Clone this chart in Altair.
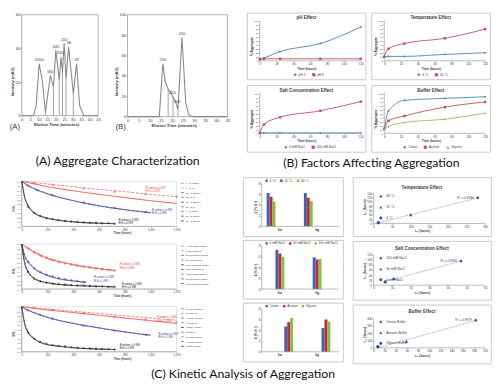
import altair as alt
import pandas as pd

FONT = "Liberation Sans"
TXT = "#3A3A3A"
AX = "#8C8C8C"
BOX = "#BDBDBD"

# ============ (A) size-exclusion chromatograms ============
chromA_time = [0, 7, 8.5, 10.3, 12.2, 14.0, 15.0, 16.9, 18.7, 20.1, 22.1, 23.1, 24.0, 25.0, 26.1, 27.6, 30.4, 32.3, 34.1, 36.6, 45]
chromA_int = [0, 0, 6, 31, 20, 2, 10, 24, 17, 39, 21, 35, 26, 43, 22, 41, 13, 31, 6, 0, 0]
chromA_cut_t = [14.0, 18.7, 22.1, 24.0, 26.1, 30.4]
chromA_cut_v = [2, 17, 21, 26, 22, 13]
chromA_lab_t = [10.3, 16.9, 20.1, 22.6, 25.0, 27.9, 32.3]
chromA_lab_v = [31, 24, 39, 35, 43, 41, 31]
chromA_lab = ["2000", "660", "440", "300", "150", "66", "29"]

chromB_time = [0, 14.3, 15.9, 17.0, 18.3, 19.4, 20.5, 21.6, 22.7, 24.5, 26.2, 27.5, 29, 45]
chromB_int = [0, 0, 52, 34, 27, 24, 19, 15, 7, 78, 14, 2, 0, 0]
chromB_cut_t = [18.3, 20.5, 22.7]
chromB_cut_v = [27, 19, 7]
chromB_lab_t = [15.9, 20.2, 22.3, 24.5]
chromB_lab_v = [52, 20, 11, 78]
chromB_lab = ["250", "450", "200", "150"]

elution_ticks = [0, 5, 10, 15, 20, 25, 30, 35, 40, 45]

# ============ (B) factors affecting aggregation ============
hours = [0, 5, 24, 72, 120]
hour_ticks = [0, 20, 40, 60, 80, 100, 120]
pct_ticks = [0, 10, 20, 30, 40, 50, 60, 70, 80, 90, 100]
ph_names = ["pH 3", "pH 6"]
ph_vals = [[4, 7, 23, 43, 84], [4, 5, 5, 5, 5]]
temp_names = ["4 °C", "30 °C"]
temp_vals = [[10, 11, 11, 16, 20], [10, 30, 43, 56, 79]]
salt_names = ["0 mM NaCl", "100 mM NaCl"]
salt_vals = [[1, 1, 1, 1, 1], [1, 22, 40, 56, 79]]
buf_names = ["Citrate", "Acetate", "Glycine"]
buf_vals = [[11, 55, 82, 87, 91], [11, 31, 43, 65, 78], [11, 17, 27, 35, 50]]
B_COLORS = ["#4F81BD", "#C0504D", "#9BBB59"]
B_SHAPES = ["diamond", "square", "triangle-up"]

# ============ (C) kinetic analysis ============
decay_hour_ticks = [0, 200, 400, 600, 800, 1000, 1200]
decay_ratio_ticks = [0, 0.1, 0.2, 0.3, 0.4, 0.5, 0.6, 0.7, 0.8, 0.9, 1]
red_h_long = [0, 100, 200, 400, 600, 800, 1000, 1200]
blue_h_long = [0, 50, 100, 200, 400, 600, 800, 1000]
black_h = [0, 25, 50, 100, 150, 200, 300, 400, 500, 600, 720]
mark_h_black = [48, 96, 144, 192, 240, 288, 336, 384, 432, 480, 528, 576, 624, 672, 720]

d1_names = ["4 °C subset", "4 °C fit", "15 °C subset", "15 °C fit", "30 °C subset", "30 °C fit",
            "4 °C actual", "15 °C actual", "30 °C actual"]
d1_line_h = [red_h_long, red_h_long, blue_h_long, blue_h_long, black_h, black_h]
d1_line_v = [[1.0, 0.94, 0.88, 0.79, 0.71, 0.64, 0.57, 0.51],
             [1.0, 0.97, 0.94, 0.88, 0.82, 0.77, 0.71, 0.66],
             [1.0, 0.90, 0.83, 0.72, 0.57, 0.46, 0.37, 0.30],
             [1.0, 0.91, 0.84, 0.73, 0.57, 0.45, 0.37, 0.31],
             [1.0, 0.62, 0.45, 0.29, 0.22, 0.18, 0.13, 0.10, 0.08, 0.07, 0.06],
             [1.0, 0.64, 0.47, 0.30, 0.23, 0.18, 0.13, 0.10, 0.08, 0.07, 0.06]]
d1_mark_h = [[96, 240, 480, 720, 960, 1200], [48, 120, 240, 480, 720, 960], mark_h_black]
d1_mark_v = [[0.96, 0.92, 0.84, 0.77, 0.71, 0.66],
             [0.90, 0.80, 0.69, 0.53, 0.41, 0.32],
             [0.44, 0.30, 0.23, 0.18, 0.16, 0.14, 0.12, 0.11, 0.10, 0.09, 0.08, 0.08, 0.07, 0.07, 0.06]]
d1_r2_x = [960, 960, 1010, 1010, 750, 750]
d1_r2_y = [0.86, 0.78, 0.37, 0.29, 0.14, 0.07]
d1_r2_t = ["R²subset = 0.997", "R²fit = 0.995", "R²subset = 0.998", "R²fit = 0.998", "R²subset = 0.999", "R²fit = 0.999"]

d2_names = ["0 mM NaCl subset", "0 mM NaCl fit", "50 mM NaCl subset", "50 mM NaCl fit",
            "100 mM NaCl subset", "100 mM NaCl fit", "0 mM NaCl actual", "50 mM NaCl actual", "100 mM NaCl actual"]
d2_red_h = [0, 100, 200, 300, 400, 500, 600, 720]
d2_blue_h = [0, 25, 50, 100, 200, 300, 400, 500]
d2_line_h = [d2_red_h, d2_red_h, d2_blue_h, d2_blue_h, black_h, black_h]
d2_line_v = [[1.0, 0.81, 0.68, 0.60, 0.54, 0.49, 0.45, 0.41],
             [1.0, 0.83, 0.70, 0.61, 0.55, 0.50, 0.46, 0.42],
             [1.0, 0.72, 0.60, 0.45, 0.30, 0.22, 0.18, 0.15],
             [1.0, 0.74, 0.62, 0.46, 0.31, 0.23, 0.18, 0.15],
             [1.0, 0.55, 0.38, 0.23, 0.17, 0.14, 0.10, 0.08, 0.07, 0.06, 0.05],
             [1.0, 0.57, 0.39, 0.24, 0.17, 0.14, 0.10, 0.08, 0.07, 0.06, 0.05]]
d2_mark_h = [mark_h_black, [48, 96, 144, 192, 240, 288, 336, 384, 432, 480], mark_h_black]
d2_mark_v = [[0.90, 0.81, 0.74, 0.69, 0.64, 0.60, 0.57, 0.55, 0.52, 0.50, 0.48, 0.46, 0.44, 0.43, 0.41],
             [0.60, 0.46, 0.38, 0.32, 0.28, 0.25, 0.22, 0.20, 0.18, 0.16],
             [0.38, 0.23, 0.17, 0.14, 0.12, 0.11, 0.10, 0.09, 0.08, 0.08, 0.07, 0.06, 0.06, 0.05, 0.05]]
d2_r2_x = [760, 760, 560, 560, 775, 775]
d2_r2_y = [0.55, 0.47, 0.27, 0.19, 0.12, 0.05]
d2_r2_t = ["R²subset = 0.996", "R²fit = 0.993", "R²subset = 0.998", "R²fit = 0.997", "R²subset = 0.999", "R²fit = 0.998"]

d3_names = ["Glycine subset", "Glycine fit", "Acetate subset", "Acetate fit", "Citrate subset", "Citrate fit",
            "Glycine actual", "Acetate actual", "Citrate actual"]
d3_red_h = [0, 200, 400, 600, 800, 1000, 1200]
d3_line_h = [d3_red_h, d3_red_h, blue_h_long, blue_h_long, black_h, black_h]
d3_line_v = [[1.0, 0.93, 0.87, 0.81, 0.75, 0.69, 0.63],
             [1.0, 0.95, 0.90, 0.85, 0.80, 0.75, 0.70],
             [1.0, 0.92, 0.86, 0.76, 0.63, 0.53, 0.44, 0.37],
             [1.0, 0.93, 0.87, 0.77, 0.63, 0.53, 0.44, 0.36],
             [1.0, 0.60, 0.43, 0.28, 0.20, 0.16, 0.12, 0.09, 0.07, 0.06, 0.05],
             [1.0, 0.62, 0.45, 0.29, 0.21, 0.16, 0.12, 0.09, 0.07, 0.06, 0.05]]
d3_mark_h = [[96, 240, 480, 720, 960, 1200], [48, 144, 240, 480, 720, 960], mark_h_black]
d3_mark_v = [[0.97, 0.93, 0.86, 0.78, 0.72, 0.65],
             [0.92, 0.82, 0.74, 0.58, 0.47, 0.38],
             [0.43, 0.29, 0.22, 0.18, 0.15, 0.13, 0.12, 0.10, 0.09, 0.08, 0.08, 0.07, 0.06, 0.06, 0.05]]
d3_r2_x = [1050, 1050, 1060, 1060, 760, 760]
d3_r2_y = [0.77, 0.69, 0.39, 0.32, 0.16, 0.09]
d3_r2_t = ["R²subset = 0.995", "R²fit = 0.994", "R²subset = 0.997", "R²fit = 0.996", "R²subset = 0.999", "R²fit = 0.999"]

DEC_COLORS = ["#EE3B3B", "#F07878", "#3B3B9E", "#6060BC", "#111111", "#555555", "#EE3B3B", "#3B3B9E", "#111111"]
DEC_DASH = [[1, 0], [3, 1.5], [1, 0], [3, 1.5], [1, 0], [3, 1.5], [1, 0], [1, 0], [1, 0]]
R2_COLORS = ["#EE3B3B", "#EE3B3B", "#3B3B9E", "#3B3B9E", "#111111", "#111111"]

bar_groups = ["ka", "kg"]
bar_temp_names = ["4 °C", "15 °C", "30 °C"]
bar_temp_vals = [[6.2, 6.2], [5.5, 5.3], [4.6, 4.7]]
bar_salt_names = ["0 mM NaCl", "50 mM NaCl", "100 mM NaCl"]
bar_salt_vals = [[7.3, 5.9], [6.6, 5.5], [6.0, 5.6]]
bar_buf_names = ["Citrate", "Acetate", "Glycine"]
bar_buf_vals = [[4.7, 4.4], [5.5, 6.0], [6.3, 5.6]]
bar_ticks = [0, 2, 4, 6, 8]
BAR_COLORS = ["#3D63BD", "#C1293C", "#86BD42"]

sc_temp_names = ["30 °C", "15 °C", "4 °C"]
sc_temp_x = [280, 100, 13]
sc_temp_y = [118, 40, 3]
sc_salt_names = ["100 mM NaCl", "50 mM NaCl", "0 mM NaCl"]
sc_salt_x = [47, 11, 6.3]
sc_salt_y = [95, 26, 13]
sc_buf_names = ["Citrate Buffer", "Acetate Buffer", "Glycine Buffer"]
sc_buf_x = [183, 59, 8]
sc_buf_y = [375, 90, 15]
sc_r2 = ["R² = 0.9936", "R² = 0.9926", "R² = 0.9979"]
SC_SHAPES = ["diamond", "triangle-up", "circle"]

IND = dict(color="independent", shape="independent", strokeDash="independent")


# ---------------- helpers ----------------
def lin(lo, hi, pad_lo, pad_hi, length):
    k = (length - pad_lo - pad_hi) / (hi - lo)
    return alt.Scale(domain=[lo - pad_lo / k, hi + pad_hi / k], nice=False, zero=False)


def axis(values, inset, title, lfs, tfs, tick=1.2):
    return alt.Axis(values=values, offset=-inset, domain=False, grid=False, ticks=True,
                    tickSize=tick, tickWidth=0.5, tickColor=AX,
                    labelFontSize=lfs, labelPadding=0.6, labelColor=TXT, labelOverlap=False,
                    labelFlush=False, title=title, titleFontSize=tfs, titlePadding=0.8,
                    titleColor=TXT, titleFontWeight="bold", minExtent=0, maxExtent=100)


def frame_rules(x0, x1, y0, y1, X, Y):
    df = pd.DataFrame({"x": [x0, x0], "x2": [x1, x0], "y": [y0, y0], "y2": [y0, y1]})
    return alt.Chart(df).mark_rule(color=AX, strokeWidth=0.6).encode(x=X("x"), x2="x2", y=Y("y"), y2="y2")


def chrom(time, inten, cut_t, cut_v, lab_t, lab_v, lab, ymax, yticks, tag, tag_x, tag_y, W, H, L, R, T, B):
    xs = lin(0, 45, L, R, W)
    ys = lin(0, ymax, B, T, H)
    xa = axis(elution_ticks, B, "Elution Time (minutes)", 4.2, 4.3)
    ya = axis(yticks, L, "Intensity (mAU)", 4.2, 4.0)
    X = lambda f: alt.X(f, type="quantitative", scale=xs, axis=xa)
    Y = lambda f: alt.Y(f, type="quantitative", scale=ys, axis=ya)
    frame = alt.Chart(pd.DataFrame({"x": [0], "x2": [45], "y": [0], "y2": [ymax]})).mark_rect(
        fillOpacity=0, stroke=AX, strokeWidth=0.7).encode(x=X("x"), x2="x2", y=Y("y"), y2="y2")
    trace = alt.Chart(pd.DataFrame({"t": time, "v": inten})).mark_line(
        color="#8A8A8A", strokeWidth=1.1).encode(x=X("t"), y=Y("v"))
    cuts = alt.Chart(pd.DataFrame({"t": cut_t, "base": [0] * len(cut_t), "v": cut_v})).mark_rule(
        color="#8A8A8A", strokeWidth=0.8).encode(x=X("t"), y=Y("base"), y2="v")
    labels = alt.Chart(pd.DataFrame({"t": lab_t, "v": lab_v, "lab": lab})).mark_text(
        fontSize=4.0, dy=-1.5, baseline="bottom", color=TXT).encode(x=X("t"), y=Y("v"), text="lab:N")
    tagc = alt.Chart(pd.DataFrame({"t": [tag_x], "v": [tag_y], "lab": [tag]})).mark_text(
        fontSize=8, color=TXT).encode(x=X("t"), y=Y("v"), text="lab:N")
    return alt.layer(frame, trace, cuts, labels, tagc).properties(width=W, height=H)


def line_panel(title, names, vals, W=121, H=68, L=13, R=5, T=8, B=19):
    rows = [dict(h=h, v=v, s=n) for n, vs in zip(names, vals) for h, v in zip(hours, vs)]
    df = pd.DataFrame(rows)
    xs = lin(0, 120, L, R, W)
    ys = lin(0, 100, B, T, H)
    xa = axis(hour_ticks, B, "Time (hours)", 3, 3.2)
    ya = axis(pct_ticks, L, "% Aggregate", 2.6, 3.2)
    X = lambda f: alt.X(f, type="quantitative", scale=xs, axis=xa)
    Y = lambda f: alt.Y(f, type="quantitative", scale=ys, axis=ya)
    n = len(names)
    est = sum(4.5 + 1.6 * len(s) for s in names) + 5 * (n - 1)
    lg = alt.Legend(orient="none", legendX=(W - est) / 2, legendY=H - 7, direction="horizontal",
                    title=None, labelFontSize=3.2, symbolSize=7, symbolStrokeWidth=0.6,
                    columnPadding=5, labelOffset=1.5, padding=0, labelColor=TXT)
    cs = alt.Scale(domain=names, range=B_COLORS[:n])
    ss = alt.Scale(domain=names, range=B_SHAPES[:n])
    rules = frame_rules(0, 120, 0, 100, X, Y)
    line = alt.Chart(df).mark_line(interpolate="monotone", strokeWidth=0.9).encode(
        x=X("h"), y=Y("v"), color=alt.Color("s:N", scale=cs, legend=lg, sort=names))
    pts = alt.Chart(df).mark_point(filled=True, size=6, opacity=1).encode(
        x=X("h"), y=Y("v"), color=alt.Color("s:N", scale=cs, legend=lg, sort=names),
        shape=alt.Shape("s:N", scale=ss, legend=lg, sort=names))
    return alt.layer(rules, line, pts).properties(
        width=W, height=H,
        title=alt.Title(title, fontSize=4.6, fontWeight="bold", offset=-7, color=TXT, anchor="middle"),
        view=alt.ViewBackground(stroke=BOX, strokeWidth=0.8))


def decay(names, line_h, line_v, mark_h, mark_v, r2x, r2y, r2t, W=233, H=62, L=14, R=61, T=4, B=12):
    xs = lin(0, 1200, L, R, W)
    ys = lin(0, 1, B, T, H)
    xa = axis(decay_hour_ticks, B, "Time (hours)", 2.8, 3)
    ya = axis(decay_ratio_ticks, L, "R/R₀", 2.5, 3)
    X = lambda f: alt.X(f, type="quantitative", scale=xs, axis=xa)
    Y = lambda f: alt.Y(f, type="quantitative", scale=ys, axis=ya)
    lrows = [dict(h=h, v=v, s=names[i]) for i in range(6) for h, v in zip(line_h[i], line_v[i])]
    mrows = [dict(h=h, v=v, s=names[6 + i]) for i in range(3) for h, v in zip(mark_h[i], mark_v[i])]
    lg = alt.Legend(orient="none", legendX=W - R + 4, legendY=4, direction="vertical", title=None,
                    labelFontSize=2.6, symbolSize=8, symbolStrokeWidth=0.7, symbolType="stroke",
                    rowPadding=0.8, clipHeight=4, labelOffset=1.5, padding=0, labelColor=TXT, labelLimit=80)
    cs = alt.Scale(domain=names, range=DEC_COLORS)
    ds = alt.Scale(domain=names, range=DEC_DASH)
    frame = alt.Chart(pd.DataFrame({"x": [0], "x2": [1200], "y": [0], "y2": [1]})).mark_rect(
        fillOpacity=0, stroke="#D6D6D6", strokeWidth=0.7).encode(x=X("x"), x2="x2", y=Y("y"), y2="y2")
    rules = frame_rules(0, 1200, 0, 1, X, Y)
    lines = alt.Chart(pd.DataFrame(lrows)).mark_line(interpolate="monotone", strokeWidth=0.9).encode(
        x=X("h"), y=Y("v"),
        color=alt.Color("s:N", scale=cs, legend=lg, sort=names),
        strokeDash=alt.StrokeDash("s:N", scale=ds, legend=lg, sort=names))
    marks = alt.Chart(pd.DataFrame(mrows)).mark_point(shape="cross", size=3, strokeWidth=0.4, opacity=1).encode(
        x=X("h"), y=Y("v"), color=alt.Color("s:N", scale=cs, legend=lg, sort=names))
    layers = [frame, rules, lines, marks]
    for c in ["#EE3B3B", "#3B3B9E", "#111111"]:
        idx = [i for i in range(6) if R2_COLORS[i] == c]
        d = pd.DataFrame({"x": [r2x[i] for i in idx], "y": [r2y[i] for i in idx], "t": [r2t[i] for i in idx]})
        layers.append(alt.Chart(d).mark_text(fontSize=2.7, align="left", color=c).encode(
            x=X("x"), y=Y("y"), text="t:N"))
    return alt.layer(*layers).properties(width=W, height=H)


def bars(names, vals, W=102, H=60, L=19, T=6, B=10, first=24, bw=27, step=38, x_end=98):
    rows = [dict(g=g, s=n, v=v) for n, vs in zip(names, vals) for g, v in zip(bar_groups, vs)]
    df = pd.DataFrame(rows)
    ys = lin(0, 8, B, T, H)
    ya = axis(bar_ticks, L, "k (% h⁻¹)", 3.3, 3.3)
    pi = (step - bw) / step
    po = (W / step - 2 + pi) / 2
    rem = W - step * (2 - pi)
    xsb = alt.Scale(domain=bar_groups, paddingInner=pi, paddingOuter=po, align=first / rem)
    xab = alt.Axis(offset=-B, domain=False, ticks=False, labelFontSize=3.5, labelPadding=1.2,
                   labelAngle=0, title=None, labelColor=TXT, labelFontWeight="bold")
    X = lambda f: alt.X(f, type="nominal", scale=xsb, axis=xab, sort=bar_groups)
    Y = lambda f: alt.Y(f, type="quantitative", scale=ys, axis=ya)
    lg = alt.Legend(orient="none", legendX=first - 2, legendY=1, direction="horizontal", title=None,
                    labelFontSize=3.2, symbolSize=6, symbolType="square", columnPadding=3,
                    labelOffset=1, padding=0, labelColor=TXT)
    bar = alt.Chart(df).mark_bar().encode(
        x=X("g"),
        xOffset=alt.XOffset("s:N", scale=alt.Scale(domain=names, paddingInner=0, paddingOuter=0), sort=names),
        y=Y("v"),
        color=alt.Color("s:N", scale=alt.Scale(domain=names, range=BAR_COLORS), legend=lg, sort=names))
    # axis lines: anchored on the first/last group band centres, widened to the plot edges
    c1 = first + bw / 2
    c2 = first + step + bw / 2
    xline = alt.Chart(pd.DataFrame({"g": [bar_groups[0]], "g2": [bar_groups[1]], "y": [0]})).mark_rule(
        color=AX, strokeWidth=0.6, xOffset=L - c1, x2Offset=x_end - c2).encode(x=X("g"), x2="g2", y=Y("y"))
    yline = alt.Chart(pd.DataFrame({"g": [bar_groups[0]], "y": [0], "y2": [8]})).mark_rule(
        color=AX, strokeWidth=0.6, xOffset=L - c1).encode(x=X("g"), y=Y("y"), y2="y2")
    return alt.layer(bar, xline, yline).properties(
        width=W, height=H, view=alt.ViewBackground(stroke=BOX, strokeWidth=0.8))


def scatter(title, names, xv, yv, xticks, yticks, r2, T, B, toff, W=141, H=60, L=21, R=6):
    xs = lin(0, xticks[-1], L, R, W)
    ys = lin(0, yticks[-1], B, T, H)
    xa = axis(xticks, B, "t₁₀ (hours)", 3, 3.2)
    ya = axis(yticks, L, "t₅₀ (hours)", 3, 3.2)
    X = lambda f: alt.X(f, type="quantitative", scale=xs, axis=xa)
    Y = lambda f: alt.Y(f, type="quantitative", scale=ys, axis=ya)
    df = pd.DataFrame({"x": xv, "y": yv, "s": names})
    lg = alt.Legend(orient="none", legendX=L + 5, legendY=T + 1, direction="vertical", title=None,
                    labelFontSize=3.4, symbolSize=9, symbolFillColor="#2E4F9E", symbolStrokeColor="#2E4F9E",
                    rowPadding=2, labelOffset=3, padding=0, labelColor=TXT)
    rules = frame_rules(0, xticks[-1], 0, yticks[-1], X, Y)
    reg = alt.Chart(df).transform_regression("x", "y").mark_line(
        color="#7F9FD6", strokeWidth=0.8, strokeDash=[1.5, 1]).encode(x=X("x"), y=Y("y"))
    pts = alt.Chart(df).mark_point(filled=True, size=12, color="#2E4F9E", opacity=1).encode(
        x=X("x"), y=Y("y"),
        shape=alt.Shape("s:N", scale=alt.Scale(domain=names, range=SC_SHAPES), legend=lg, sort=names))
    lab = alt.Chart(pd.DataFrame({"x": [xv[0]], "y": [yv[0]], "t": [r2]})).mark_text(
        fontSize=3.2, align="right", dx=-4, color=TXT).encode(x=X("x"), y=Y("y"), text="t:N")
    return alt.layer(rules, reg, pts, lab).properties(
        width=W, height=H,
        title=alt.Title(title, fontSize=4.6, fontWeight="bold", offset=toff, color=TXT, anchor="middle"),
        view=alt.ViewBackground(stroke=BOX, strokeWidth=0.8))


# ---------------- assemble ----------------
chromA = chrom(chromA_time, chromA_int, chromA_cut_t, chromA_cut_v, chromA_lab_t, chromA_lab_v, chromA_lab,
               60, [0, 20, 40, 60], "(A)", -4.0, -7.0, W=98, H=140, L=14, R=6, T=2, B=35)
chromB = chrom(chromB_time, chromB_int, chromB_cut_t, chromB_cut_v, chromB_lab_t, chromB_lab_v, chromB_lab,
               100, [0, 20, 40, 60, 80, 100], "(B)", -3.1, -10.6, W=134, H=140, L=20, R=12, T=2, B=34)

sec_title = dict(orient="bottom", anchor="middle", font="Lato", fontSize=12.5,
                 fontWeight="normal", color="#111111")

partA = alt.hconcat(chromA, chromB, spacing=4,
                    title=alt.Title("(A) Aggregate Characterization", offset=5, dx=-6, **sec_title))
rowB1 = alt.hconcat(line_panel("pH Effect", ph_names, ph_vals),
                    line_panel("Temperature Effect", temp_names, temp_vals), spacing=4).resolve_scale(**IND)
rowB2 = alt.hconcat(line_panel("Salt Concentration Effect", salt_names, salt_vals),
                    line_panel("Buffer Effect", buf_names, buf_vals), spacing=4).resolve_scale(**IND)
partB = alt.vconcat(rowB1, rowB2, spacing=4,
                    title=alt.Title("(B) Factors Affecting Aggregation", offset=5, dx=3, **sec_title)).resolve_scale(**IND)
top = alt.hconcat(partA, partB, spacing=7).resolve_scale(**IND)

decay_col = alt.vconcat(
    decay(d1_names, d1_line_h, d1_line_v, d1_mark_h, d1_mark_v, d1_r2_x, d1_r2_y, d1_r2_t),
    decay(d2_names, d2_line_h, d2_line_v, d2_mark_h, d2_mark_v, d2_r2_x, d2_r2_y, d2_r2_t),
    decay(d3_names, d3_line_h, d3_line_v, d3_mark_h, d3_mark_v, d3_r2_x, d3_r2_y, d3_r2_t),
    spacing=2).resolve_scale(**IND)
bar_col = alt.vconcat(bars(bar_temp_names, bar_temp_vals), bars(bar_salt_names, bar_salt_vals),
                      bars(bar_buf_names, bar_buf_vals), spacing=2).resolve_scale(**IND)
sc_col = alt.vconcat(
    scatter("Temperature Effect", sc_temp_names, sc_temp_x, sc_temp_y, [0, 50, 100, 150, 200, 250, 300],
            [0, 20, 40, 60, 80, 100, 120, 140], sc_r2[0], T=16, B=13, toff=-12),
    scatter("Salt Concentration Effect", sc_salt_names, sc_salt_x, sc_salt_y, [0, 10, 20, 30, 40, 50, 60],
            [0, 20, 40, 60, 80, 100, 120], sc_r2[1], T=14, B=15, toff=-10),
    scatter("Buffer Effect", sc_buf_names, sc_buf_x, sc_buf_y, [0, 20, 40, 60, 80, 100, 120, 140, 160, 180, 200],
            [0, 100, 200, 300, 400], sc_r2[2], T=14, B=16, toff=-9),
    spacing=3).resolve_scale(**IND)
bottom = alt.hconcat(alt.hconcat(decay_col, bar_col, spacing=6).resolve_scale(**IND), sc_col,
                     spacing=8).resolve_scale(**IND)

# section caption (C) carried by an empty full-width unit so it centres on the whole row
c_caption = alt.Chart(pd.DataFrame({"t": [""]})).mark_text(fontSize=1, opacity=0).encode(text="t:N").properties(
    width=490, height=1,
    title=alt.Title("(C) Kinetic Analysis of Aggregation", offset=1, dx=-5, **sec_title))
lower = alt.vconcat(bottom, c_caption, spacing=1).resolve_scale(**IND)

chart = alt.vconcat(top, lower, spacing=7, padding=0).resolve_scale(**IND).configure(font=FONT).configure_view(stroke=None)
chart.save("out.html", embed_options={"renderer": "svg", "actions": False})
